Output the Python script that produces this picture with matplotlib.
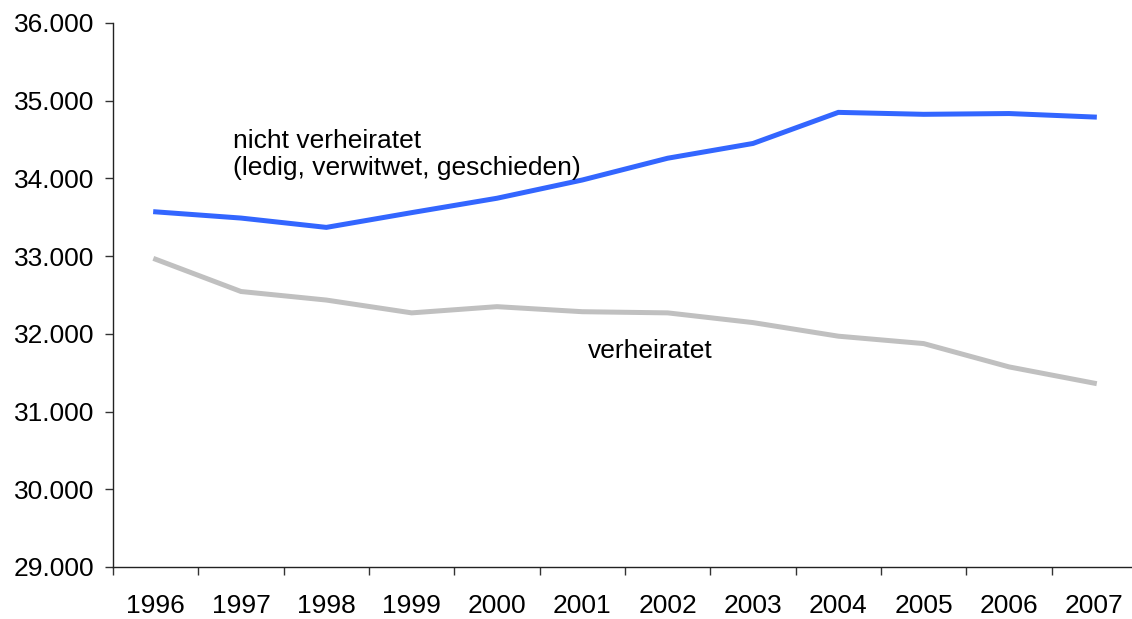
import matplotlib
matplotlib.use("Agg")
import matplotlib.pyplot as plt
from matplotlib.ticker import FuncFormatter, FixedLocator

years = ["1996", "1997", "1998", "1999", "2000", "2001", "2002", "2003", "2004", "2005", "2006", "2007"]
nicht_verheiratet = [33570, 33490, 33370, 33560, 33745, 33980, 34260, 34450, 34850, 34825, 34835, 34790]
verheiratet = [32960, 32545, 32435, 32270, 32350, 32285, 32270, 32145, 31970, 31875, 31575, 31365]
label_nv_1 = "nicht verheiratet"
label_nv_2 = "(ledig, verwitwet, geschieden)"
label_v = "verheiratet"

plt.rcParams['font.family'] = ['Liberation Sans', 'DejaVu Sans']
FS = 19

fig = plt.figure(figsize=(11.32, 6.19), dpi=100)
ax = fig.add_axes([113/1132, 52/619, 1024/1132, 544/619])

x = list(range(len(years)))
ax.plot(x, nicht_verheiratet, color='#3366FF', lw=3.6, solid_joinstyle='miter')
ax.plot(x, verheiratet, color='#C0C0C0', lw=3.6, solid_joinstyle='miter')

ax.set_xlim(-0.5, len(years) - 0.5)
ax.set_ylim(29000, 36000)
ax.set_yticks(range(29000, 36001, 1000))
ax.yaxis.set_major_formatter(FuncFormatter(lambda v, p: f"{v:,.0f}".replace(",", ".")))

ax.set_xticks(x)
ax.set_xticklabels(years)
ax.xaxis.set_minor_locator(FixedLocator([i - 0.5 for i in range(len(years) + 1)]))
ax.tick_params(axis='x', which='major', length=0, pad=19.5, labelsize=FS)
ax.tick_params(axis='x', which='minor', length=5.8, width=1, direction='out', color='#333333')
ax.tick_params(axis='y', length=5.8, width=1, direction='out', pad=7.4, labelsize=FS, color='#333333')

for s in ['top', 'right']:
    ax.spines[s].set_visible(False)
for s in ['left', 'bottom']:
    ax.spines[s].set_color('#222222')
    ax.spines[s].set_linewidth(1)

ax.text(0.906, 34391, label_nv_1, fontsize=FS, va='baseline', ha='left')
ax.text(0.906, 34045, label_nv_2, fontsize=FS, va='baseline', ha='left')
ax.text(5.067, 31685, label_v, fontsize=FS, va='baseline', ha='left')

fig.savefig("out.png", dpi=100)
